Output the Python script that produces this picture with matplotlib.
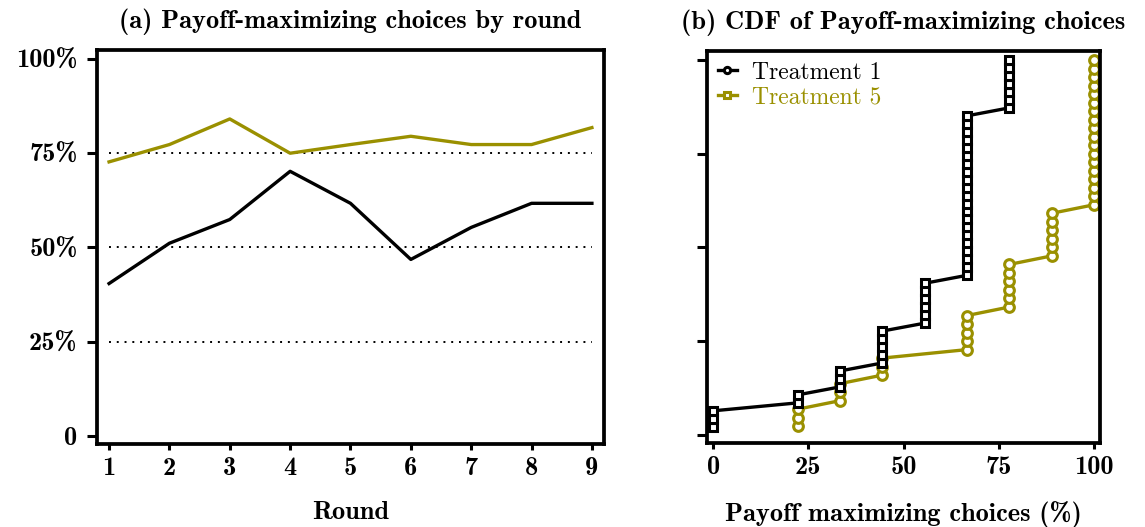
import matplotlib
matplotlib.use("Agg")
import matplotlib.pyplot as plt
from matplotlib.lines import Line2D
import numpy as np

plt.rcParams["axes.unicode_minus"] = False

olive = "#9a9000"

# panel (a): share of payoff-maximizing choices per round (%)
rounds = [1, 2, 3, 4, 5, 6, 7, 8, 9]
t1_share = [40.4, 51.1, 57.4, 70.2, 61.7, 46.8, 55.3, 61.7, 61.7]
t5_share = [72.7, 77.3, 84.1, 75.0, 77.3, 79.5, 77.3, 77.3, 81.8]

# panel (b): number of subjects per score (payoff-max choices out of 9 rounds)
score_pct = [0, 11.1, 22.2, 33.3, 44.4, 55.6, 66.7, 77.8, 88.9, 100]
t1_counts = [3, 0, 2, 3, 5, 6, 21, 7, 0, 0]
t5_counts = [0, 0, 3, 3, 3, 0, 5, 6, 6, 18]

yticks = [0, 25, 50, 75, 100]
ytick_labels = ["0", "25%", "50%", "75%", "100%"]
xticks_b = [0, 25, 50, 75, 100]

bold = ["cmb10", "DejaVu Serif"]
reg = ["cmr10", "DejaVu Serif"]
fs = 19

fig = plt.figure(figsize=(11.45, 5.27), dpi=100)
ax1 = fig.add_axes([0.0847, 0.1575, 0.4428, 0.7476])
ax2 = fig.add_axes([0.6175, 0.1594, 0.3432, 0.7438])

for ax in (ax1, ax2):
    for s in ax.spines.values():
        s.set_linewidth(2.7)
    ax.tick_params(axis="y", direction="out", length=7, width=2.2, pad=7)
    ax.tick_params(axis="x", direction="out", length=4.5, width=2.2, pad=5)
    ax.set_ylim(-2.2, 102.4)
    ax.set_yticks(yticks)

# (a)
for lvl in (25, 50, 75):
    ax1.plot([1, 9], [lvl, lvl], color="black", lw=1.4, ls=(0, (1, 3)))
ax1.plot(rounds, t5_share, color=olive, lw=2.4)
ax1.plot(rounds, t1_share, color="black", lw=2.4)
ax1.set_xlim(0.8, 9.2)
ax1.set_xticks(rounds)
ax1.set_xticklabels([str(r) for r in rounds], family=bold, fontsize=fs)
ax1.set_yticklabels(ytick_labels, family=bold, fontsize=fs)
ax1.set_xlabel("Round", family=bold, fontsize=fs, labelpad=15)
ax1.set_title("(a) Payoff-maximizing choices by round", family=bold,
              fontsize=fs, pad=16)

# (b)
def ecdf(counts):
    x = np.repeat(score_pct, counts)
    y = np.arange(1, len(x) + 1) / len(x) * 100
    return x, y

x1, y1 = ecdf(t1_counts)
x5, y5 = ecdf(t5_counts)
ax2.plot(x5, y5, color=olive, lw=2.4, marker="o", ms=7, mfc="white",
         mec=olive, mew=2.2, clip_on=False)
ax2.plot(x1, y1, color="black", lw=2.4, marker="s", ms=6, mfc="white",
         mec="black", mew=2.2, clip_on=False)
ax2.set_xlim(-1.6, 101.6)
ax2.set_xticks(xticks_b)
ax2.set_xticklabels([str(v) for v in xticks_b], family=bold, fontsize=fs)
ax2.set_yticklabels([])
ax2.set_xlabel("Payoff maximizing choices (%)", family=bold, fontsize=fs,
               labelpad=16)
ax2.set_title("(b) CDF of Payoff-maximizing choices", family=bold,
              fontsize=fs, pad=16)

handles = [
    Line2D([], [], color="black", lw=2.4, marker="o", ms=4.5, mfc="white",
           mec="black", mew=2.2),
    Line2D([], [], color=olive, lw=2.4, marker="s", ms=4.5, mfc="white",
           mec=olive, mew=2.2),
]
leg = ax2.legend(handles, ["Treatment 1", "Treatment 5"], loc="upper left",
                 frameon=False, handlelength=0.8, handletextpad=0.65,
                 borderaxespad=0.05, labelspacing=0.12,
                 prop={"family": reg, "size": 17})
for txt, c in zip(leg.get_texts(), ["black", olive]):
    txt.set_color(c)

fig.savefig("out.png", dpi=100)
